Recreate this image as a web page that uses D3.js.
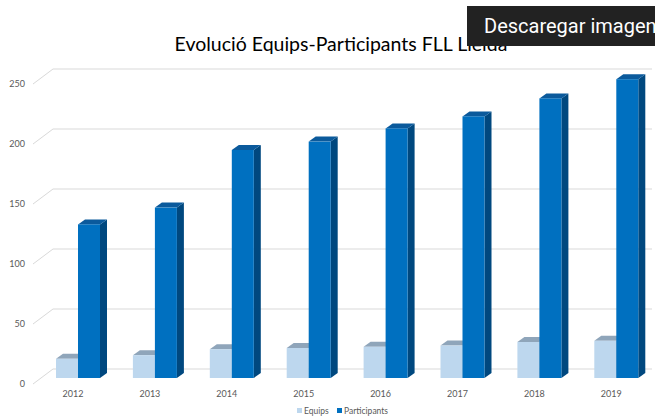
<!DOCTYPE html>
<html>
<head>
<meta charset="utf-8">
<script src="https://cdn.jsdelivr.net/npm/d3@7"></script>
<style>
	body { margin: 0; background: #fff; }
	svg { display: block; }
</style>
</head>
<body>
<svg id="chart" width="655" height="417"></svg>
<script>
const years = ['2012', '2013', '2014', '2015', '2016', '2017', '2018', '2019'];
const equips = [16, 19, 24, 25, 26, 27, 30, 31];
const participants = [128, 142, 190, 197, 208, 218, 233, 249];
const yTicks = [0, 50, 100, 150, 200, 250];
const seriesNames = ['Equips', 'Participants'];

const svg = d3.select('#chart');

// depth of floor and of bars (pseudo 3d)
const floorDx = 20, floorDy = -15;
const barDx = 7, barDy = -5;

const yWall = d3.scaleLinear().domain([0, 250]).range([369, 69]);
const yBar = d3.scaleLinear().domain([0, 250]).range([378, 78]);
const xCat = d3.scaleBand().domain(years).range([45, 45 + 76.9 * years.length]);
const barW = 22;

const colors = {
	Equips: { front: '#bdd7ee', top: '#8fa5ba', side: '#8aa3bb' },
	Participants: { front: '#0070c0', top: '#0b5a9c', side: '#00487f' }
};

// title
svg.append('text')
	.attr('x', 341)
	.attr('y', 51)
	.attr('text-anchor', 'middle')
	.attr('fill', '#000')
	.style('font', '19.5px Lato')
	.text('Evolució Equips-Participants FLL Lleida');

// gridlines on back wall + side diagonals
const grid = svg.append('g');
yTicks.forEach(v => {
	const yb = yWall(v);
	grid.append('line')
		.attr('x1', 33).attr('y1', yb - floorDy)
		.attr('x2', 33 + floorDx).attr('y2', yb)
		.attr('stroke', '#d9d9d9').attr('stroke-width', 1);
	grid.append('line')
		.attr('x1', 33 + floorDx).attr('y1', yb)
		.attr('x2', 652).attr('y2', yb)
		.attr('stroke', '#d9d9d9').attr('stroke-width', 1);
	grid.append('text')
		.attr('x', 25)
		.attr('y', yb - floorDy + 3)
		.attr('text-anchor', 'end')
		.attr('fill', '#595959')
		.style('font', '9px Lato')
		.text(v);
});

// bars
const bars = svg.append('g');
function drawBar(x, value, c) {
	const y0 = yBar(0), y1 = yBar(value);
	bars.append('path')
		.attr('d', `M${x + barW},${y0}L${x + barW + barDx},${y0 + barDy}L${x + barW + barDx},${y1 + barDy}L${x + barW},${y1}Z`)
		.attr('fill', c.side);
	bars.append('path')
		.attr('d', `M${x},${y1}L${x + barDx},${y1 + barDy}L${x + barW + barDx},${y1 + barDy}L${x + barW},${y1}Z`)
		.attr('fill', c.top);
	bars.append('rect')
		.attr('x', x).attr('y', y1)
		.attr('width', barW).attr('height', y0 - y1)
		.attr('fill', c.front);
}

years.forEach((yr, i) => {
	const x0 = xCat(yr) + 11;
	drawBar(x0, equips[i], colors.Equips);
	drawBar(x0 + barW, participants[i], colors.Participants);

	svg.append('text')
		.attr('x', xCat(yr) + 28)
		.attr('y', 397)
		.attr('text-anchor', 'middle')
		.attr('fill', '#595959')
		.style('font', '9px Lato')
		.text(yr);
});

// legend
const legend = svg.append('g');
const legendX = [297, 337];
seriesNames.forEach((name, i) => {
	legend.append('rect')
		.attr('x', legendX[i]).attr('y', 408)
		.attr('width', 5).attr('height', 5)
		.attr('fill', colors[name].front);
	legend.append('text')
		.attr('x', legendX[i] + 7)
		.attr('y', 414)
		.attr('fill', '#595959')
		.style('font', '8.5px Lato')
		.text(name);
});

// download tooltip overlay
svg.append('rect')
	.attr('x', 467).attr('y', 6)
	.attr('width', 200).attr('height', 40)
	.attr('fill', '#222222');
svg.append('text')
	.attr('x', 484)
	.attr('y', 33)
	.attr('fill', '#ffffff')
	.style('font', '20px Roboto')
	.text('Descaregar imagen');
</script>
</body>
</html>
